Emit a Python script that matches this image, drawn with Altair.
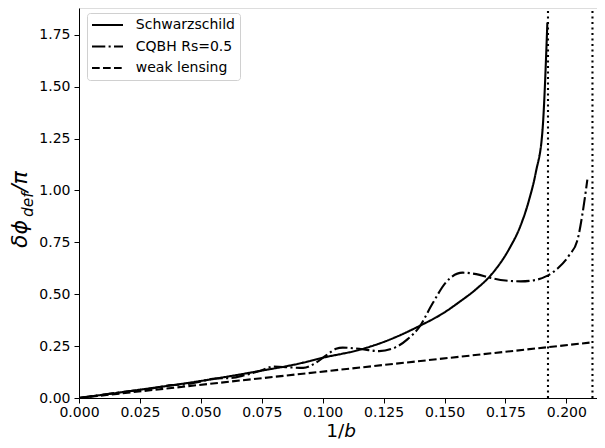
import altair as alt
import pandas as pd

# ---- data ----
series_names = ["Schwarzschild", "CQBH Rs=0.5", "weak lensing"]

sch_x = [0.0, 0.025, 0.05, 0.075, 0.09, 0.1, 0.115, 0.125, 0.139, 0.15, 0.156,
         0.163, 0.169, 0.1765, 0.181, 0.1847, 0.1875, 0.1902, 0.1922]
sch_y = [0.0, 0.040, 0.082, 0.132, 0.165, 0.194, 0.232, 0.270, 0.343, 0.413, 0.462,
         0.525, 0.592, 0.718, 0.825, 0.955, 1.09, 1.29, 1.81]

cq_x = [0.0, 0.02, 0.03, 0.038, 0.044, 0.05, 0.056, 0.062, 0.068, 0.074, 0.08,
        0.086, 0.092, 0.097, 0.1014, 0.1055, 0.1082, 0.115, 0.1232, 0.130, 0.135,
        0.1396, 0.145, 0.1506, 0.1574, 0.163, 0.169, 0.175, 0.1813, 0.187, 0.1916,
        0.1965, 0.2011, 0.2045, 0.2066, 0.208, 0.2086]
cq_y = [0.0, 0.032, 0.046, 0.062, 0.066, 0.080, 0.094, 0.096, 0.110, 0.130, 0.152,
        0.148, 0.145, 0.168, 0.205, 0.237, 0.243, 0.237, 0.226, 0.245, 0.285,
        0.341, 0.454, 0.558, 0.604, 0.597, 0.579, 0.566, 0.562, 0.568, 0.586,
        0.625, 0.687, 0.759, 0.888, 1.0, 1.052]

weak_x = [0.0, 0.2095]
weak_y = [0.0, 0.2667]

crit_x = [0.19245, 0.2107]

x_ticks = [0.0, 0.025, 0.05, 0.075, 0.1, 0.125, 0.15, 0.175, 0.2]
y_ticks = [0.0, 0.25, 0.5, 0.75, 1.0, 1.25, 1.5, 1.75]

# ---- build table ----
rows = []
for name, xs, ys in zip(series_names, [sch_x, cq_x, weak_x], [sch_y, cq_y, weak_y]):
    for a, b in zip(xs, ys):
        rows.append({"series": name, "x": a, "y": b})
df = pd.DataFrame(rows)
crit = pd.DataFrame({"xc": crit_x})

FONT = "DejaVu Sans"
dashes = [[1, 0], [13.3, 3.3, 2.1, 3.3], [7.7, 3.3]]

x_scale = alt.Scale(domain=[0, 0.21256], nice=False, zero=False)
y_scale = alt.Scale(domain=[0, 1.8795], nice=False)

axis_common = dict(tickSize=5, tickColor="black", tickWidth=1, domainColor="black",
                   labelColor="black", labelFont=FONT, labelFontSize=14, grid=False,
                   title=None, labelFlush=False, labelOverlap=False)

lines = alt.Chart(df).mark_line(color="black", strokeWidth=2.1, interpolate="monotone",
                                clip=True).encode(
    x=alt.X("x:Q", scale=x_scale,
            axis=alt.Axis(values=x_ticks, format=".3f", labelPadding=2, **axis_common)),
    y=alt.Y("y:Q", scale=y_scale,
            axis=alt.Axis(values=y_ticks, format=".2f", labelPadding=4, **axis_common)),
    strokeDash=alt.StrokeDash(
        "series:N",
        scale=alt.Scale(domain=series_names, range=dashes),
        legend=alt.Legend(
            title=None, orient="none", legendX=8, legendY=5, direction="vertical",
            symbolType="M-3.1,0H3.1", symbolSize=100, symbolStrokeWidth=2.1,
            symbolStrokeColor="black", symbolFillColor="transparent",
            symbolOffset=8.5, labelOffset=21.3, labelFont=FONT, labelFontSize=14,
            labelColor="black", padding=5, rowPadding=7.5, strokeColor="#d0d0d0",
            fillColor="white", cornerRadius=3, labelLimit=300,
        ),
    ),
)

rules = alt.Chart(crit).mark_rule(color="black", strokeWidth=2.1,
                                  strokeDash=[2.1, 3.4]).encode(
    x=alt.X("xc:Q", scale=x_scale),
    y=alt.datum(0),
    y2=alt.value(0),
)

def txt(t, x, y, size, style="normal", angle=0):
    kw = dict(text=t, align="left", baseline="alphabetic", font=FONT,
              fontSize=size, color="black", fontStyle=style)
    if angle:
        kw["angle"] = angle
    return alt.Chart(pd.DataFrame({"t": [t]})).mark_text(**kw).encode(
        x=alt.value(x), y=alt.value(y))

YS = 22
ytitle = [
    txt("δϕ", -52, 240, YS, "italic", 270),
    txt("def", -46, 209, YS * 0.7, "italic", 270),
    txt("/π", -52, 184, YS, "italic", 270),
]
XS = 18.5
xtitle = [
    txt("1/", 247.2, 428.5, XS),
    txt("b", 247.2 + 0.973 * XS, 428.5, XS, "italic"),
]

chart = alt.layer(lines, rules, *ytitle, *xtitle).properties(
    width=518, height=390,
    autosize=alt.AutoSizeParams(type="none"),
    padding={"left": 71, "top": 0, "right": 0, "bottom": 42},
).configure_view(stroke="black", strokeWidth=1).configure(font=FONT)

chart.save("out.html", embed_options={"renderer": "svg", "actions": False})
